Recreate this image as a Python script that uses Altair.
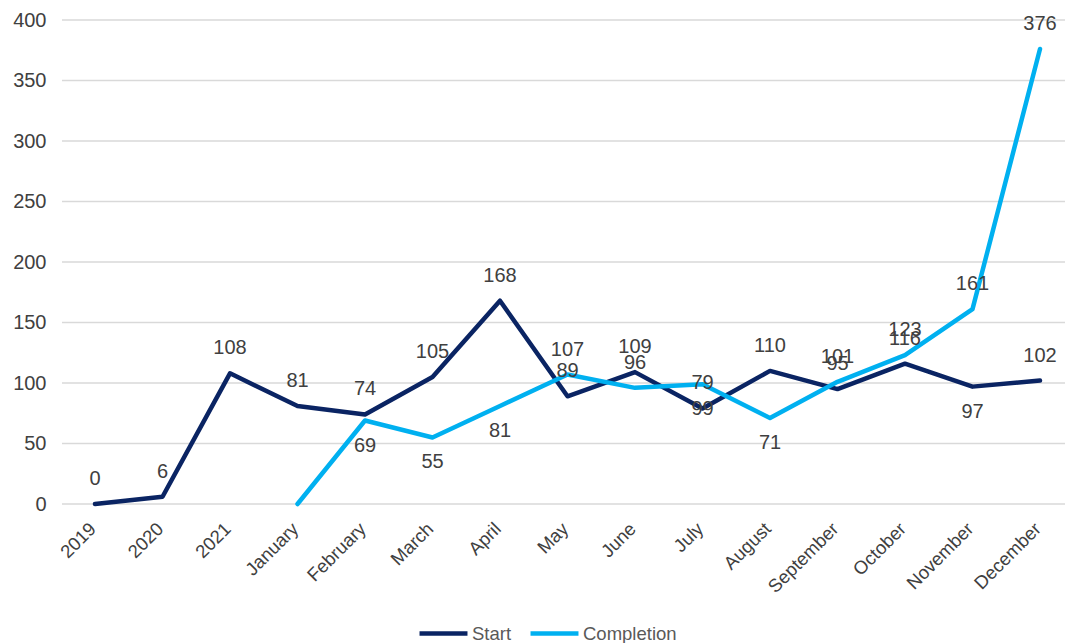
import altair as alt
import pandas as pd

categories = ["2019", "2020", "2021", "January", "February", "March", "April", "May",
              "June", "July", "August", "September", "October", "November", "December"]
start_values = [0, 6, 108, 81, 74, 105, 168, 89, 109, 79, 110, 95, 116, 97, 102]
completion_cats = ["January", "February", "March", "April", "May", "June", "July",
                   "August", "September", "October", "November", "December"]
completion_values = [0, 69, 55, 81, 107, 96, 99, 71, 101, 123, 161, 376]
completion_unlabeled = ["January"]
start_labels_below = ["November"]
completion_labels_below = ["February", "March", "April", "July", "August"]
series_names = ["Start", "Completion"]
series_colors = ["#0a2463", "#00b0f0"]
y_ticks = [0, 50, 100, 150, 200, 250, 300, 350, 400]

rows = []
for c, v in zip(categories, start_values):
    rows.append({"cat": c, "series": "Start", "value": v,
                 "pos": "below" if c in start_labels_below else "above", "show": True})
for c, v in zip(completion_cats, completion_values):
    rows.append({"cat": c, "series": "Completion", "value": v,
                 "pos": "below" if c in completion_labels_below else "above",
                 "show": c not in completion_unlabeled})
df = pd.DataFrame(rows)
grid_df = pd.DataFrame({"value": y_ticks})

FONT = "Liberation Sans"
W, H = 1003, 484

x_enc = alt.X("cat:N", sort=categories,
              scale=alt.Scale(type="point", range=[33, 978], padding=0),
              axis=alt.Axis(title=None, labelAngle=-45, labelAlign="right", labelBaseline="top",
                            labelFontSize=18.5, labelColor="#404040", labelFont=FONT,
                            labelPadding=15, labelOffset=-9, ticks=False, domain=False,
                            grid=False))
y_scale = alt.Scale(domain=[0, 400], nice=False)
y_axis = alt.Axis(title=None, values=y_ticks, labelFontSize=20,
                  labelColor="#404040", labelFont=FONT, labelPadding=16,
                  ticks=False, domain=False, grid=False)
y_enc = alt.Y("value:Q", scale=y_scale, axis=y_axis)
color_enc = alt.Color("series:N", scale=alt.Scale(domain=series_names, range=series_colors),
                      legend=alt.Legend(title=None, orient="none", direction="horizontal",
                                        legendX=355, legendY=587, symbolType="stroke",
                                        symbolStrokeWidth=4.5, symbolSize=2300,
                                        labelFontSize=18.5, labelColor="#595959", labelFont=FONT,
                                        columnPadding=9, labelOffset=2, padding=0))

grid = alt.Chart(grid_df).mark_rule(color="#d9d9d9", strokeWidth=1.5).encode(
    x=alt.value(0), x2=alt.value(W), y=y_enc)

base = alt.Chart(df)
lines = base.mark_line(strokeWidth=4.5, strokeJoin="round", strokeCap="round").encode(
    x=x_enc, y=y_enc, color=color_enc, detail="series:N")

lines_start = lines.transform_filter(alt.datum.series == "Start")
lines_comp = lines.transform_filter(alt.datum.series == "Completion")

txt = dict(fontSize=20, font=FONT, color="#404040", align="center", baseline="middle")
labels_above = base.transform_filter("datum.show && datum.pos == 'above'").mark_text(dy=-25, **txt).encode(
    x=alt.X("cat:N", sort=categories), y="value:Q", text="value:Q")
labels_below = base.transform_filter("datum.show && datum.pos == 'below'").mark_text(dy=25, **txt).encode(
    x=alt.X("cat:N", sort=categories), y="value:Q", text="value:Q")

chart = alt.layer(grid, lines_start, lines_comp, labels_above, labels_below).properties(
    width=W, height=H,
    autosize=alt.AutoSizeParams(type="none"),
    padding={"left": 62, "top": 20, "right": 0, "bottom": 139},
).configure(background="white").configure_view(stroke=None)

chart.save("out.html", embed_options={"renderer": "svg", "actions": False})
